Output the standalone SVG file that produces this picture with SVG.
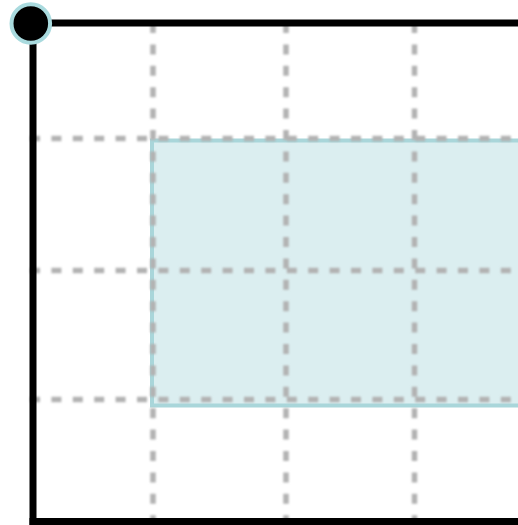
<svg xmlns="http://www.w3.org/2000/svg" width="518" height="525" viewBox="0 0 518 525">
<defs>
<style>
.axis{stroke:#000;stroke-width:7;fill:none}
.grid{stroke:#b2b2b2;stroke-width:5.5;stroke-dasharray:10 11.4;fill:none}
</style>
<filter id="soft" x="-5%" y="-5%" width="110%" height="110%"><feGaussianBlur stdDeviation="0.8"/></filter>
</defs>
<rect width="518" height="525" fill="#fff"/>
<g id="region">
<rect x="152" y="140.5" width="372" height="265" fill="#dbeef0" stroke="#a9d6da" stroke-width="4"/>
</g>
<g id="connectors" filter="url(#soft)">
<line class="grid" x1="153" y1="23" x2="153" y2="525"/>
<line class="grid" x1="286" y1="23" x2="286" y2="525"/>
<line class="grid" x1="414.5" y1="23" x2="414.5" y2="525"/>
<line class="grid" x1="30" y1="138.5" x2="518" y2="138.5"/>
<line class="grid" x1="30" y1="270.5" x2="518" y2="270.5"/>
<line class="grid" x1="30" y1="399.5" x2="518" y2="399.5"/>
</g>
<g id="axes">
<line class="axis" x1="31" y1="23" x2="518" y2="23"/>
<line class="axis" x1="33" y1="23" x2="33" y2="525"/>
<line class="axis" x1="29.5" y1="521.5" x2="518" y2="521.5"/>
</g>
<g id="origin">
<circle cx="30.8" cy="23.5" r="19.3" fill="#000" stroke="#a9dade" stroke-width="4"/>
</g>
</svg>
